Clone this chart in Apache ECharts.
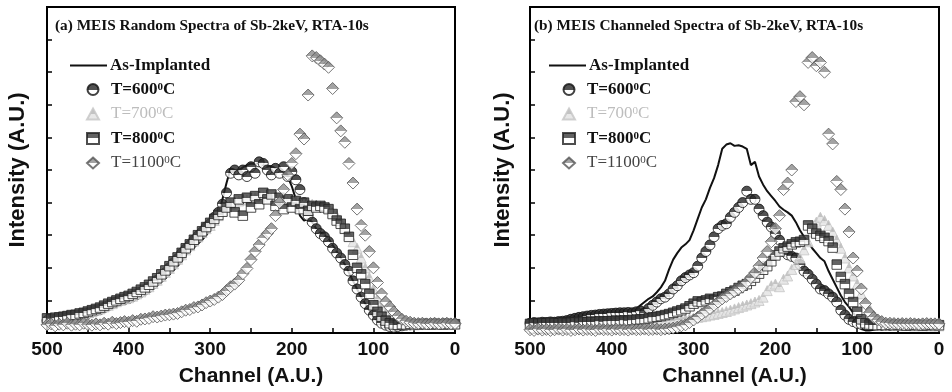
<!DOCTYPE html>
<html>
<head>
<meta charset="utf-8">
<script src="https://cdn.jsdelivr.net/npm/echarts@6/dist/echarts.min.js"></script>
<style>
html,body{margin:0;padding:0;background:#fff;}
#chart{width:952px;height:392px;}
</style>
</head>
<body>
<div id="chart"></div>
<script>
// Channel values (A.U.), shared by all series
const channels = [
500,495,490,485,480,475,470,465,460,455,
450,445,440,435,430,425,420,415,410,405,
400,395,390,385,380,375,370,365,360,355,
350,345,340,335,330,325,320,315,310,305,
300,295,290,285,280,275,270,265,260,255,
250,245,240,235,230,225,220,215,210,205,
200,195,190,185,180,175,170,165,160,155,
150,145,140,135,130,125,120,115,110,105,
100,95,90,85,80,75,70,65,60,55,
50,45,40,35,30,25,20,15,10,5,
0];

const xTickLabels = ['500','400','300','200','100','0'];
const seriesNames = ['As-Implanted','T=600','T=700','T=800','T=1100'];
const panelTitles = ['(a) MEIS Random Spectra of Sb-2keV, RTA-10s','(b) MEIS Channeled Spectra of Sb-2keV, RTA-10s'];

// ---------- Panel (a): Random spectra ----------
const randomAsImplanted = [
0.35,0.37,0.36,0.40,0.42,0.44,0.47,0.49,0.52,0.55,
0.60,0.62,0.66,0.71,0.77,0.82,0.87,0.92,0.97,1.02,
1.08,1.12,1.17,1.22,1.27,1.34,1.41,1.50,1.60,1.68,
1.80,1.92,2.05,2.20,2.40,2.50,2.62,2.74,2.85,3.00,
3.15,3.40,3.65,4.10,4.60,5.05,5.00,4.98,5.08,5.15,
5.20,5.18,5.22,5.15,5.10,5.12,5.05,5.00,4.95,4.80,
4.50,4.10,3.60,3.45,3.50,3.40,3.20,3.10,3.00,2.90,
2.70,2.50,2.30,2.10,1.85,1.60,1.35,1.10,0.90,0.70,
0.50,0.35,0.25,0.18,0.13,0.11,0.12,0.15,0.18,0.20,
0.22,0.23,0.24,0.25,0.25,0.26,0.25,0.26,0.25,0.26,
0.25];
const random600 = [
0.38,0.40,0.42,0.41,0.45,0.47,0.50,0.52,0.55,0.57,
0.60,0.64,0.68,0.72,0.78,0.84,0.90,0.95,1.00,1.03,
1.06,1.12,1.18,1.25,1.32,1.40,1.50,1.62,1.72,1.85,
2.00,2.15,2.28,2.45,2.58,2.70,2.85,2.98,3.10,3.25,
3.35,3.55,3.70,3.95,4.30,4.90,5.00,4.85,5.00,4.80,
5.10,4.90,5.25,5.20,5.00,4.85,5.05,4.90,5.10,4.80,
4.95,4.70,4.40,4.00,3.60,3.40,3.20,3.05,2.95,2.80,
2.60,2.45,2.30,2.10,1.90,1.60,1.35,1.10,0.90,0.70,
0.55,0.40,0.30,0.24,0.20,0.18,0.20,0.22,0.24,0.25,
0.26,0.27,0.26,0.28,0.27,0.28,0.27,0.28,0.28,0.27,
0.28];
const random700 = [
0.42,0.40,0.44,0.46,0.45,0.49,0.50,0.53,0.56,0.58,
0.62,0.66,0.70,0.74,0.80,0.85,0.90,0.96,1.00,1.05,
1.08,1.13,1.20,1.26,1.34,1.42,1.52,1.62,1.74,1.86,
1.98,2.12,2.26,2.40,2.55,2.68,2.82,2.95,3.08,3.20,
3.30,3.45,3.60,3.75,3.85,3.95,4.00,4.05,4.10,4.08,
4.12,4.15,4.10,4.18,4.20,4.15,4.20,4.10,4.15,4.05,
4.10,4.05,4.00,3.95,3.98,3.95,3.92,3.90,3.90,3.85,
3.70,3.60,3.40,3.20,3.00,2.80,2.60,2.30,2.00,1.70,
1.35,1.05,0.80,0.60,0.45,0.36,0.30,0.28,0.26,0.27,
0.25,0.27,0.26,0.28,0.26,0.27,0.26,0.28,0.27,0.26,
0.27];
const random800 = [
0.45,0.43,0.47,0.48,0.50,0.52,0.55,0.56,0.60,0.62,
0.66,0.70,0.74,0.78,0.84,0.90,0.95,1.00,1.05,1.10,
1.14,1.20,1.26,1.33,1.40,1.48,1.58,1.68,1.80,1.92,
2.05,2.20,2.32,2.46,2.60,2.72,2.86,3.00,3.12,3.25,
3.38,3.50,3.62,3.72,3.85,4.00,3.70,4.10,3.60,4.15,
3.85,4.20,3.95,4.30,4.10,4.25,3.90,4.15,3.80,4.10,
3.85,4.05,3.80,4.00,3.75,3.90,3.85,3.90,3.85,3.80,
3.65,3.45,3.35,3.20,2.95,2.40,2.00,1.80,1.50,1.20,
0.85,0.65,0.50,0.38,0.30,0.26,0.25,0.27,0.26,0.28,
0.27,0.26,0.28,0.27,0.26,0.28,0.27,0.26,0.28,0.27,
0.27];
const random1100 = [
0.25,0.28,0.22,0.27,0.25,0.30,0.24,0.27,0.25,0.30,
0.26,0.24,0.28,0.25,0.30,0.27,0.33,0.29,0.32,0.35,
0.33,0.38,0.36,0.42,0.43,0.45,0.50,0.49,0.52,0.55,
0.56,0.58,0.60,0.65,0.70,0.72,0.78,0.80,0.86,0.93,
0.98,1.03,1.10,1.18,1.30,1.42,1.50,1.62,1.82,1.98,
2.25,2.50,2.70,2.90,3.05,3.20,3.60,4.00,4.40,4.85,
5.20,5.50,6.10,5.95,7.30,8.50,8.45,8.35,8.25,8.15,
7.50,6.60,6.20,5.85,5.20,4.60,3.80,3.30,3.00,2.50,
2.00,1.55,1.20,0.95,0.80,0.65,0.52,0.42,0.36,0.33,
0.30,0.29,0.30,0.28,0.29,0.30,0.28,0.29,0.30,0.28,
0.29];

// ---------- Panel (b): Channeled spectra ----------
const chanAsImplanted = [
0.30,0.31,0.30,0.32,0.31,0.33,0.32,0.33,0.32,0.34,
0.33,0.35,0.36,0.37,0.38,0.40,0.41,0.42,0.43,0.44,
0.45,0.46,0.48,0.50,0.55,0.62,0.72,0.85,0.95,1.05,
1.12,1.25,1.40,1.60,1.95,2.25,2.45,2.62,2.72,2.85,
3.15,3.50,3.85,4.10,4.45,4.75,5.15,5.65,5.78,5.82,
5.74,5.76,5.72,5.65,5.15,5.25,4.80,4.55,4.35,4.20,
4.05,3.88,3.78,3.70,3.60,3.40,3.15,2.95,2.80,2.60,
2.45,2.30,2.20,1.90,1.65,1.40,1.15,0.95,0.80,0.62,
0.45,0.12,0.08,0.08,0.10,0.12,0.14,0.16,0.18,0.20,
0.22,0.22,0.23,0.22,0.23,0.24,0.23,0.24,0.23,0.24,
0.24];
const chan600 = [
0.30,0.32,0.31,0.33,0.32,0.34,0.33,0.35,0.36,0.38,
0.42,0.45,0.48,0.50,0.52,0.54,0.55,0.57,0.58,0.59,
0.60,0.61,0.62,0.62,0.63,0.62,0.65,0.68,0.62,0.75,
0.85,0.95,1.05,1.10,1.20,1.35,1.45,1.60,1.70,1.78,
1.85,2.05,2.30,2.50,2.70,2.95,3.20,3.30,3.35,3.55,
3.70,3.85,4.00,4.35,4.10,4.10,3.80,3.60,3.40,3.25,
3.05,2.85,2.50,2.40,2.35,2.30,2.10,1.90,1.80,1.65,
1.50,1.35,1.30,1.20,1.10,0.95,0.70,0.55,0.42,0.35,
0.30,0.27,0.26,0.25,0.26,0.25,0.24,0.25,0.24,0.25,
0.24,0.25,0.24,0.23,0.24,0.25,0.24,0.23,0.24,0.24,
0.24];
const chan700 = [
0.20,0.21,0.19,0.20,0.22,0.21,0.20,0.22,0.21,0.22,
0.21,0.22,0.23,0.22,0.24,0.23,0.24,0.25,0.24,0.25,
0.25,0.26,0.26,0.27,0.28,0.28,0.29,0.30,0.30,0.31,
0.32,0.33,0.34,0.35,0.36,0.38,0.39,0.41,0.43,0.44,
0.46,0.48,0.50,0.52,0.55,0.57,0.60,0.63,0.66,0.70,
0.74,0.78,0.82,0.86,0.90,0.95,1.00,1.10,1.30,1.45,
1.50,1.42,1.65,1.75,1.95,2.10,2.30,2.55,2.80,3.10,
3.40,3.55,3.45,3.30,3.10,2.85,2.60,2.30,2.00,1.75,
1.50,1.20,0.95,0.75,0.55,0.42,0.35,0.30,0.27,0.25,
0.24,0.23,0.24,0.23,0.22,0.23,0.22,0.23,0.22,0.22,
0.22];
const chan800 = [
0.28,0.30,0.29,0.31,0.30,0.32,0.31,0.30,0.32,0.31,
0.32,0.33,0.32,0.34,0.33,0.35,0.34,0.36,0.35,0.36,
0.37,0.38,0.37,0.39,0.38,0.40,0.41,0.42,0.43,0.45,
0.48,0.50,0.52,0.55,0.58,0.62,0.66,0.70,0.75,0.82,
0.90,0.97,0.95,1.00,1.05,1.02,1.10,1.12,1.20,1.25,
1.30,1.38,1.45,1.50,1.60,1.70,1.82,1.94,2.05,2.20,
2.38,2.50,2.60,2.65,2.72,2.78,2.80,2.85,3.30,3.20,
3.05,2.98,2.92,2.82,2.62,2.10,1.72,1.50,1.20,0.95,
0.65,0.42,0.30,0.26,0.25,0.24,0.25,0.24,0.25,0.24,
0.25,0.24,0.23,0.24,0.25,0.24,0.23,0.24,0.25,0.24,
0.24];
const chan1100 = [
0.10,0.08,0.12,0.09,0.11,0.08,0.10,0.12,0.09,0.11,
0.08,0.10,0.12,0.09,0.11,0.10,0.08,0.12,0.10,0.11,
0.09,0.12,0.10,0.11,0.09,0.12,0.10,0.11,0.12,0.10,
0.11,0.12,0.10,0.12,0.13,0.15,0.18,0.22,0.25,0.32,
0.40,0.48,0.58,0.66,0.75,0.85,0.95,1.05,1.12,1.20,
1.28,1.35,1.42,1.55,1.70,1.85,2.05,2.30,2.50,2.80,
3.20,3.60,4.40,4.60,5.00,7.10,7.25,7.00,8.30,8.45,
8.20,8.30,8.00,6.10,5.80,4.65,4.40,3.80,3.10,2.30,
1.90,1.35,0.90,0.62,0.48,0.40,0.35,0.30,0.30,0.29,
0.28,0.29,0.28,0.29,0.28,0.27,0.28,0.29,0.28,0.28,
0.28];

const panelData = [
  [randomAsImplanted, random600, random700, random800, random1100],
  [chanAsImplanted, chan600, chan700, chan800, chan1100]
];

function halfFill(top, bottom) {
  return new echarts.graphic.LinearGradient(0, 0, 0, 1, [
    {offset: 0, color: top}, {offset: 0.5, color: top},
    {offset: 0.5, color: bottom}, {offset: 1, color: bottom}
  ]);
}

const markerStyles = [
  null,
  {symbol: 'circle', size: 10, itemStyle: {color: halfFill('#262626', '#ffffff'), borderColor: '#111', borderWidth: 1}},
  {symbol: 'triangle', size: 10, itemStyle: {color: halfFill('#b4b4b4', '#e2e2e2'), borderColor: '#c4c4c4', borderWidth: 1}},
  {symbol: 'rect', size: 9.5, itemStyle: {color: halfFill('#3c3c3c', '#ffffff'), borderColor: '#222', borderWidth: 1}},
  {symbol: 'diamond', size: 12, itemStyle: {color: halfFill('#8c8c8c', '#ffffff'), borderColor: '#555', borderWidth: 1}}
];

const gridBoxes = [
  {left: 47, right: 497, top: 7, bottom: 56},
  {left: 530, right: 13, top: 7, bottom: 55}
];

const chart = echarts.init(document.getElementById('chart'), null, {renderer: 'canvas'});

const grids = [], xAxes = [], yAxes = [], series = [], legends = [], titles = [];
const yNameGaps = [18, 16];
const titleLefts = [55, 534];
const lineLegendLefts = [70, 549];
const markerLegendLefts = [86, 562];

const legendFont = {
  fontFamily: 'Liberation Serif', fontSize: 17, lineHeight: 16,
  rich: {sup: {fontFamily: 'Liberation Serif', fontSize: 11, verticalAlign: 'top'}}
};

for (let p = 0; p < 2; p++) {
  grids.push(Object.assign({show: true, borderColor: '#000', borderWidth: 2, backgroundColor: 'transparent'}, gridBoxes[p]));
  xAxes.push({
    gridIndex: p, type: 'value', min: 0, max: 500, interval: 50, inverse: true,
    name: 'Channel (A.U.)', nameLocation: 'middle', nameGap: 33,
    nameTextStyle: {fontFamily: 'Liberation Sans', fontWeight: 'bold', fontSize: 21, color: '#111'},
    axisLine: {show: true, onZero: false, lineStyle: {color: '#000', width: 2}},
    axisTick: {show: true, inside: true, length: 5, lineStyle: {color: '#000', width: 1.5}},
    axisLabel: {
      margin: 7, fontFamily: 'Liberation Sans', fontWeight: 'bold', fontSize: 19, color: '#111',
      formatter: function (v) { const s = String(v); return xTickLabels.indexOf(s) >= 0 ? s : ''; }
    },
    splitLine: {show: false}
  });
  yAxes.push({
    gridIndex: p, type: 'value', min: 0, max: 10, interval: 1, position: 'left',
    name: 'Intensity (A.U.)', nameLocation: 'middle', nameGap: yNameGaps[p], nameRotate: 90,
    nameTextStyle: {fontFamily: 'Liberation Sans', fontWeight: 'bold', fontSize: 22, color: '#111'},
    axisLine: {show: true, onZero: false, lineStyle: {color: '#000', width: 2}},
    axisTick: {show: true, inside: true, length: 5, lineStyle: {color: '#000', width: 1.5}},
    axisLabel: {show: false},
    splitLine: {show: false}
  });
  const vals = panelData[p];
  for (let s = 0; s < 5; s++) {
    const data = channels.map((c, i) => [c, vals[s][i]]);
    if (s === 0) {
      series.push({
        name: seriesNames[0], type: 'line', xAxisIndex: p, yAxisIndex: p, data: data,
        symbol: 'none', showSymbol: false, smooth: false,
        lineStyle: {color: '#111', width: 2}, itemStyle: {color: '#111'},
        z: 2, animation: false
      });
    } else {
      const m = markerStyles[s];
      series.push({
        name: seriesNames[s], type: 'scatter', xAxisIndex: p, yAxisIndex: p, data: data,
        symbol: m.symbol, symbolSize: m.size, itemStyle: m.itemStyle,
        z: 2 + s, animation: false
      });
    }
  }
  titles.push({
    text: panelTitles[p], left: titleLefts[p], top: 19, padding: 0,
    textStyle: {fontFamily: 'Liberation Serif', fontWeight: 'bold', fontSize: 15.3, color: '#111'}
  });
  // line legend
  legends.push({
    orient: 'vertical', left: lineLegendLefts[p], top: 57, padding: 0,
    itemWidth: 37, itemHeight: 2, selectedMode: false,
    data: [{name: 'As-Implanted', icon: 'rect', textStyle: {color: '#111', fontWeight: 'bold'}}],
    textStyle: Object.assign({padding: [0, 0, 0, -2]}, legendFont)
  });
  // marker legend
  legends.push({
    orient: 'vertical', left: markerLegendLefts[p], top: 81, padding: 0,
    itemWidth: 12, itemHeight: 11, itemGap: 7.5, selectedMode: false,
    data: [
      {name: 'T=600', textStyle: {color: '#111', fontWeight: 'bold'}},
      {name: 'T=700', textStyle: {color: '#bdbdbd', fontWeight: 'normal'}},
      {name: 'T=800', textStyle: {color: '#111', fontWeight: 'bold'}},
      {name: 'T=1100', textStyle: {color: '#444', fontWeight: 'normal'}}
    ],
    formatter: function (name) { return name + '{sup|0}C'; },
    textStyle: Object.assign({padding: [0, 0, 0, 7]}, legendFont)
  });
}

chart.setOption({
  animation: false,
  backgroundColor: '#fff',
  title: titles,
  legend: legends,
  grid: grids,
  xAxis: xAxes,
  yAxis: yAxes,
  series: series
});
</script>
</body>
</html>
